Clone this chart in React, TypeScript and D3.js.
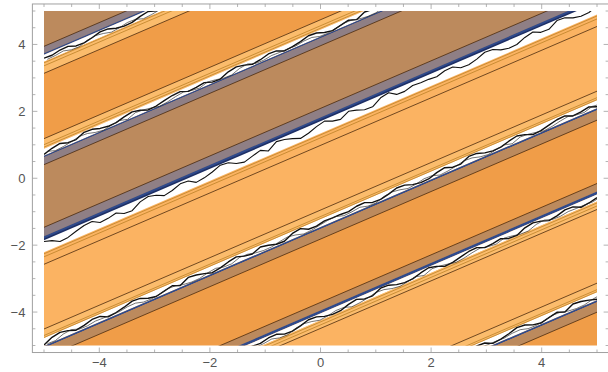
import React from "react";
import * as d3 from "d3";

// ---- data ----
const xMajorTicks = [-4, -2, 0, 2, 4];
const yMajorTicks = [-4, -2, 0, 2, 4];
const minorStep = 0.5;
const domain = [-5, 5];
const pad = 0.21;

const SLOPE = 0.711; // contour direction (dy/dx)
// intercepts (y at x=0) of each contour band
const bandCenters = [7.17, 4.32, 1.7, -1.43, -4.16, -7.17];
const bandTypes = ["A", "B", "C", "D", "E", "D"];
// wide region fills, from top-left to bottom-right
const regionFills = ["brown", "dark", "brown", "light", "dark", "light", "dark"];
// hand-read jitter of the noisy zero contour (px-equivalent)
const jitter = [0, 0.6, -1.2, -1.4, 1.6, 1.9, 0.3, -2.1, -1.6, 1.1, 2.4, 2.2, -0.4, -1.8, 0.9, 1.2, -2.6, -2.2, 0.4, 1.7, 1.5, -0.8, -2.4, -0.5, 2.6, 2.1, 0.2, -1.5, -1.9, 1.3, 0.8, -0.6, 2.3, 2.7, -1.1, -2.5, -0.9, 1.8, 0.6, -1.7, -1.3, 2.2, 1.4, -0.3, -2.7, -2.0, 1.0, 2.5, 0.7, -1.0, 1.9, -2.3, -1.4, 0.5, 2.8, 1.6, -0.7, -2.2, 0.3, 1.5, -1.8, -0.2, 2.0, 2.4, -1.6, -2.8, 0.9, 1.2, -0.5, 0];

// ---- styles ----
const COLORS: Record<string, string> = {
  brown: "#bc8a5d",
  dark: "#f09d48",
  light: "#fbb362",
  strip: "#fbbc6c",
  gray: "#8f7f85",
  navy: "#2f4a8c",
  white: "#ffffff",
};
type Layout = {
  stripes: [number, number, string][];
  lines: [number, string][];
  jag: number;
  amp: number;
  noisy: boolean;
};
const LAYOUTS: Record<string, Layout> = {
  A: {
    stripes: [[-11, -4, "gray"], [-4, -2.5, "navy"], [-2.5, 4.5, "white"], [4.5, 16, "strip"]],
    lines: [[-11, "dk"], [5.5, "yl"], [8.5, "yl"], [16, "dk"]],
    jag: 0.8, amp: 1.0, noisy: true,
  },
  B: {
    stripes: [[-14, -4, "strip"], [-4, 3, "white"], [3, 4.5, "navy"], [4.5, 12, "gray"]],
    lines: [[-14, "dk"], [-8, "yl"], [-5.5, "yl"], [12, "dk"]],
    jag: -0.5, amp: 1.0, noisy: true,
  },
  C: {
    stripes: [[-13, -4, "gray"], [-4, -1, "navy"], [-1, 12, "white"]],
    lines: [[-13, "dk"], [-1, "nv"], [13.5, "yl"], [16.5, "yl"], [24, "dk"]],
    jag: 4.5, amp: 1.4, noisy: false,
  },
  D: {
    stripes: [[-16, -7, "strip"], [-7, 1, "white"], [1, 3, "navy"], [3, 13, "brown"]],
    lines: [[-16, "dk"], [-9.5, "yl"], [-7.5, "yl"], [13, "dk"]],
    jag: -3, amp: 1.1, noisy: true,
  },
  E: {
    stripes: [[-15, -7, "brown"], [-7, -4, "navy"], [-4, 3, "white"], [3, 11, "strip"]],
    lines: [[-15, "dk"], [4.5, "yl"], [7.5, "yl"], [11, "dk"]],
    jag: -0.5, amp: 1.1, noisy: true,
  },
};

const W = 608;
const H = 372;

export default function App() {
  const x = d3.scaleLinear().domain(domain).range([44, 597]);
  const y = d3.scaleLinear().domain(domain).range([345.5, 11]);
  const K = y(0) - y(1);
  const toData = (px: number) => px / K;
  const X0 = -6, X1 = 6;

  const poly = (uTop: number, uBot: number) =>
    [
      [x(X0), y(uTop + SLOPE * X0)],
      [x(X1), y(uTop + SLOPE * X1)],
      [x(X1), y(uBot + SLOPE * X1)],
      [x(X0), y(uBot + SLOPE * X0)],
    ]
      .map((p) => p.join(","))
      .join(" ");

  const regions = regionFills.map((c, i) => {
    const uTop = i === 0 ? 30 : bandCenters[i - 1];
    const uBot = i === regionFills.length - 1 ? -30 : bandCenters[i];
    return <polygon key={"r" + i} points={poly(uTop, uBot)} fill={COLORS[c]} />;
  });

  const n = jitter.length;
  const xAt = (i: number) => domain[0] + (i * (domain[1] - domain[0])) / (n - 1);
  const jagLine = d3.line<[number, number]>().x((d) => d[0]).y((d) => d[1]);

  const bands = bandCenters.map((uc, bi) => {
    const L = LAYOUTS[bandTypes[bi]];
    const els: React.ReactNode[] = [];
    L.stripes.forEach(([a, b, c], si) => {
      els.push(<polygon key={`s${bi}-${si}`} points={poly(uc - toData(a), uc - toData(b))} fill={COLORS[c]} />);
    });
    L.lines.forEach(([o, kind], li) => {
      const u = uc - toData(o);
      const stroke = kind === "dk" ? "rgba(70,38,10,0.85)" : kind === "nv" ? "#1d2f66" : "rgba(190,130,40,0.9)";
      els.push(
        <line key={`l${bi}-${li}`} x1={x(X0)} y1={y(u + SLOPE * X0)} x2={x(X1)} y2={y(u + SLOPE * X1)}
          stroke={stroke} strokeWidth={kind === "nv" ? 1.6 : 0.9} />
      );
    });
    const shift = bi * 11;
    const pts = jitter.map((_, i): [number, number] => {
      const j = jitter[(i + shift) % n];
      const xd = xAt(i);
      return [x(xd), y(uc + SLOPE * xd - toData(L.jag + j * L.amp))];
    });
    els.push(<path key={`j${bi}`} d={jagLine(pts) || ""} fill="none" stroke="#111" strokeWidth={L.noisy ? 1.4 : 1.1} strokeLinejoin="round" />);
    if (L.noisy) {
      const pts2 = jitter.map((_, i): [number, number] => {
        const j = jitter[(i + shift + 29) % n];
        const xd = xAt(i) + 0.06;
        return [x(xd), y(uc + SLOPE * xd - toData(L.jag + 1.6 + j * 0.8))];
      });
      els.push(<path key={`j2${bi}`} d={jagLine(pts2) || ""} fill="none" stroke="#222" strokeWidth={0.8} opacity={0.8} />);
    }
    return <g key={"b" + bi}>{els}</g>;
  });

  const fx0 = x(domain[0] - pad), fx1 = x(domain[1] + pad);
  const fy0 = y(domain[1] + pad), fy1 = y(domain[0] - pad);
  const ticks = d3.range(domain[0], domain[1] + 0.001, minorStep);
  const isMajor = (v: number) => xMajorTicks.some((t) => Math.abs(t - v) < 1e-6);
  const axisColor = "#a0a0a0";
  const fmt = (v: number) => (v < 0 ? "\u2212" + Math.abs(v) : String(v));

  return (
    <svg width={W} height={H} style={{ position: "absolute", left: 0, top: 0, background: "#fff" }}
      fontFamily="'Liberation Sans', Arial, sans-serif">
      <defs>
        <clipPath id="plotClip">
          <rect x={x(domain[0])} y={y(domain[1])} width={x(domain[1]) - x(domain[0])} height={y(domain[0]) - y(domain[1])} />
        </clipPath>
      </defs>
      <g clipPath="url(#plotClip)">
        {regions}
        {bands}
      </g>
      <rect x={fx0} y={fy0} width={fx1 - fx0} height={fy1 - fy0} fill="none" stroke={axisColor} strokeWidth={1} />
      {ticks.map((v, i) => {
        const len = isMajor(v) ? 5 : 3;
        return (
          <g key={"t" + i} stroke={axisColor} strokeWidth={0.8}>
            <line x1={x(v)} x2={x(v)} y1={fy1} y2={fy1 - len} />
            <line x1={x(v)} x2={x(v)} y1={fy0} y2={fy0 + len} />
            <line y1={y(v)} y2={y(v)} x1={fx0} x2={fx0 + len} />
            <line y1={y(v)} y2={y(v)} x1={fx1} x2={fx1 - len} />
          </g>
        );
      })}
      {xMajorTicks.map((v) => (
        <text key={"xl" + v} x={x(v)} y={fy1 + 14} textAnchor="middle" fontSize={13} fill="#555">{fmt(v)}</text>
      ))}
      {yMajorTicks.map((v) => (
        <text key={"yl" + v} x={fx0 - 7} y={y(v) + 4.5} textAnchor="end" fontSize={13} fill="#555">{fmt(v)}</text>
      ))}
    </svg>
  );
}
